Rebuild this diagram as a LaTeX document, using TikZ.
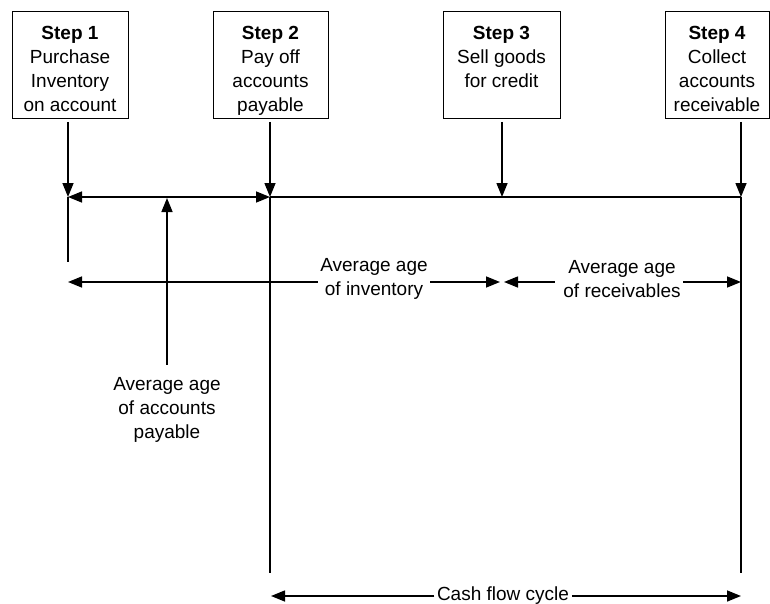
\documentclass[tikz,border=0pt]{standalone}
\usepackage{fontspec}
\setmainfont{Liberation Sans}
\usetikzlibrary{arrows.meta}
\usetikzlibrary{positioning}
\usetikzlibrary{calc}
\newcommand{\topgap}{\rule{0pt}{26pt}}
\newcommand{\botgap}{\rule[-5pt]{0pt}{5pt}}

\begin{document}
\begin{tikzpicture}[x=1pt,y=-1pt,
                line width=1.5pt,
                every node/.style={font=\fontsize{19}{24}\selectfont,align=center},
                stepbox/.style={draw,line width=1pt,minimum height=104pt,inner sep=2pt},
                lbl/.style={inner sep=2pt},
                arr/.style={-{Triangle[length=14pt,width=11pt]}},
                darr/.style={{Triangle[length=14pt,width=11pt]}-{Triangle[length=14pt,width=11pt]}}]
             \useasboundingbox (0,0) rectangle (770,604);
             \node[stepbox,minimum width=116pt] (s1) at (70,65) {\topgap\textbf{Step 1}\\Purchase\\Inventory\\on account\botgap};
             \node[stepbox,minimum width=115pt] (s2) at (270.5,65) {\topgap\textbf{Step 2}\\Pay off\\accounts\\payable\botgap};
             \node[stepbox,minimum width=117pt] (s3) at (501.5,65) {\topgap\textbf{Step 3}\\Sell goods\\for credit\\\mbox{}\botgap};
             \node[stepbox,minimum width=104pt] (s4) at (717,65) {\topgap\textbf{Step 4}\\Collect\\accounts\\receivable\botgap};
             \coordinate (t1) at (68,197);
             \coordinate (t2) at (270,197);
             \coordinate (t3) at (502,197);
             \coordinate (t4) at (741,197);
             \coordinate (tp) at (167,198);
             \draw[arr] ([yshift=-3pt]s1.south -| t1) -- (t1);
             \draw[arr] ([yshift=-3pt]s2.south -| t2) -- (t2);
             \draw[arr] ([yshift=-3pt]s3.south -| t3) -- (t3);
             \draw[arr] ([yshift=-3pt]s4.south -| t4) -- (t4);
             \draw[darr] (t1) -- (t2);
             \draw (t2) -- (t4);
             \coordinate (e1) at (68,262);
             \coordinate (e2) at (270,573);
             \coordinate (e4) at (741,573);
             \draw (t1) -- (e1);
             \draw (t2) -- (e2);
             \draw (t4) -- (e4);
             \node[lbl] (pay) at (167,410) {Average age\\of accounts\\payable};
             \draw[arr] ([yshift=10pt]pay.north) -- (tp);
             \node[lbl] (inv) at (374,279) {Average age\\of inventory};
             \node[lbl] (rec) at (622,279) {Average age\\of receivables};
             \coordinate (a1) at (68,282);
             \coordinate (a2) at (500,282);
             \coordinate (a3) at (504,282);
             \coordinate (a4) at (741,282);
             \draw[arr] (inv.west |- a1) -- (a1);
             \draw[arr] (inv.east |- a1) -- (a2);
             \draw[arr] ([xshift=-6pt]rec.west |- a1) -- (a3);
             \draw[arr] (rec.east |- a1) -- (a4);
             \node[lbl] (cash) at (503,596) {Cash flow cycle};
             \coordinate (c1) at (271,596);
             \coordinate (c2) at (741,596);
             \draw[arr] (cash.west) -- (c1);
             \draw[arr] (cash.east) -- (c2);
             \end{tikzpicture}
\end{document}
